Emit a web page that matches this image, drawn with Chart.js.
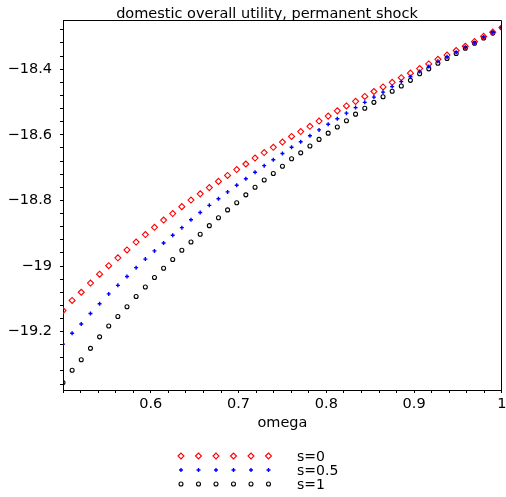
<!DOCTYPE html>
<html>
<head>
<meta charset="utf-8">
<title>domestic overall utility, permanent shock</title>
<script src="https://cdn.jsdelivr.net/npm/chart.js@4.4.1/dist/chart.umd.min.js"></script>
<style>
    html, body { margin: 0; padding: 0; background: #fff; }
    #wrap { width: 506px; height: 497px; }
</style>
</head>
<body>
<div id="wrap"><canvas id="utilityChart" width="506" height="497"></canvas></div>
<script>
// --- Data ---
const omega = [
    0.5, 0.5104, 0.5208, 0.5313, 0.5417, 0.5521, 0.5625, 0.5729, 0.5833, 0.5938,
    0.6042, 0.6146, 0.625, 0.6354, 0.6458, 0.6563, 0.6667, 0.6771, 0.6875, 0.6979,
    0.7083, 0.7188, 0.7292, 0.7396, 0.75, 0.7604, 0.7708, 0.7813, 0.7917, 0.8021,
    0.8125, 0.8229, 0.8333, 0.8438, 0.8542, 0.8646, 0.875, 0.8854, 0.8958, 0.9063,
    0.9167, 0.9271, 0.9375, 0.9479, 0.9583, 0.9688, 0.9792, 0.9896, 1
];

const utilityS0 = [
    -19.136, -19.105, -19.080, -19.052, -19.025, -18.999, -18.975, -18.951, -18.927, -18.904,
    -18.882, -18.860, -18.840, -18.819, -18.799, -18.780, -18.761, -18.742, -18.724, -18.706,
    -18.689, -18.671, -18.654, -18.638, -18.622, -18.605, -18.590, -18.574, -18.558, -18.543,
    -18.527, -18.512, -18.498, -18.483, -18.468, -18.454, -18.440, -18.426, -18.412, -18.398,
    -18.384, -18.370, -18.357, -18.343, -18.330, -18.316, -18.300, -18.287, -18.273
];

const utilityS05 = [
    -19.238, -19.205, -19.177, -19.145, -19.115, -19.085, -19.059, -19.032, -19.005, -18.979,
    -18.954, -18.930, -18.906, -18.883, -18.859, -18.837, -18.815, -18.795, -18.774, -18.754,
    -18.734, -18.714, -18.694, -18.676, -18.657, -18.638, -18.621, -18.603, -18.585, -18.568,
    -18.551, -18.534, -18.517, -18.501, -18.485, -18.470, -18.453, -18.438, -18.423, -18.407,
    -18.392, -18.376, -18.362, -18.348, -18.333, -18.319, -18.302, -18.288, -18.273
];

const utilityS1 = [
    -19.355, -19.318, -19.286, -19.251, -19.216, -19.183, -19.154, -19.124, -19.093, -19.064,
    -19.035, -19.007, -18.980, -18.952, -18.927, -18.903, -18.877, -18.853, -18.829, -18.807,
    -18.783, -18.760, -18.738, -18.718, -18.696, -18.673, -18.655, -18.634, -18.614, -18.595,
    -18.576, -18.557, -18.537, -18.519, -18.501, -18.484, -18.467, -18.451, -18.434, -18.414,
    -18.399, -18.382, -18.367, -18.352, -18.336, -18.321, -18.305, -18.290, -18.274
];

const seriesLabels = ['s=0', 's=0.5', 's=1'];

const xTickValues = [0.6, 0.7, 0.8, 0.9, 1];
const xTickLabels = ['0.6', '0.7', '0.8', '0.9', '1'];
const yTickValues = [-19.2, -19, -18.8, -18.6, -18.4];
const yTickLabels = ['\u221219.2', '\u221219', '\u221218.8', '\u221218.6', '\u221218.4'];

const chartTitle = 'domestic overall utility, permanent shock';
const xTitle = 'omega';

// --- Styles ---
const FONT = "'DejaVu Sans', 'Liberation Sans', sans-serif";
const markerStyles = [
    { pointStyle: 'rectRot', color: '#ff0000', radius: 3, width: 1.1, order: 1 },
    { pointStyle: 'cross', color: '#0000ff', radius: 2, width: 1.4, order: 0 },
    { pointStyle: 'circle', color: '#000000', radius: 2, width: 1.1, order: 2 }
];

Chart.defaults.font.family = FONT;
Chart.defaults.color = '#000';

const toPoints = ys => ys.map((y, i) => ({ x: omega[i], y: y }));
const seriesValues = [utilityS0, utilityS05, utilityS1];

// minor ticks every 0.02 on x and 0.04 on y, labels only on the major ones
const minorTicks = (from, step, count) => {
    const out = [];
    for (let i = 0; i < count; i++) out.push({ value: +(from + i * step).toFixed(2) });
    return out;
};
const labelFor = (values, labels) => v => {
    const idx = values.findIndex(m => Math.abs(m - v) < 1e-6);
    return idx >= 0 ? labels[idx] : '';
};

const drawMarker = (ctx, style, x, y, r) => {
    ctx.beginPath();
    if (style === 'rectRot') {
        ctx.moveTo(x - r, y);
        ctx.lineTo(x, y - r);
        ctx.lineTo(x + r, y);
        ctx.lineTo(x, y + r);
        ctx.closePath();
    } else if (style === 'cross') {
        ctx.moveTo(x, y - r);
        ctx.lineTo(x, y + r);
        ctx.moveTo(x - r, y);
        ctx.lineTo(x + r, y);
    } else {
        ctx.arc(x, y, r, 0, Math.PI * 2);
    }
    ctx.stroke();
};

// --- Frame, title and legend ---
const decorations = {
    id: 'decorations',
    afterDraw(chart) {
        const { ctx, chartArea } = chart;
        ctx.save();

        // top and right sides of the box
        ctx.strokeStyle = '#000';
        ctx.lineWidth = 1;
        ctx.beginPath();
        const top = Math.round(chartArea.top) + 0.5;
        const right = Math.round(chartArea.right) - 0.5;
        ctx.moveTo(Math.round(chartArea.left), top);
        ctx.lineTo(right, top);
        ctx.lineTo(right, Math.round(chartArea.bottom));
        ctx.stroke();

        // title
        ctx.fillStyle = '#000';
        ctx.font = '14.5px ' + FONT;
        ctx.textAlign = 'center';
        ctx.textBaseline = 'alphabetic';
        ctx.fillText(chartTitle, 267, 17.5);

        // legend: six markers and a label per series
        const rowY = [456, 470, 484];
        const markerX = [181, 198.5, 216, 233.5, 251, 268.5];
        ctx.textAlign = 'left';
        ctx.textBaseline = 'middle';
        ctx.font = '14px ' + FONT;
        markerStyles.forEach((m, i) => {
            ctx.strokeStyle = m.color;
            ctx.lineWidth = m.width;
            markerX.forEach(x => drawMarker(ctx, m.pointStyle, x, rowY[i], m.radius));
            ctx.fillStyle = '#000';
            ctx.fillText(seriesLabels[i], 297, rowY[i] + 1);
        });
        ctx.restore();
    }
};

const tickFont = { size: 14.5, family: FONT };

new Chart(document.getElementById('utilityChart'), {
    type: 'scatter',
    data: {
        datasets: seriesValues.map((ys, i) => ({
            label: seriesLabels[i],
            data: toPoints(ys),
            order: markerStyles[i].order,
            pointStyle: markerStyles[i].pointStyle,
            pointRadius: markerStyles[i].radius,
            pointHoverRadius: markerStyles[i].radius,
            pointBorderWidth: markerStyles[i].width,
            borderColor: markerStyles[i].color,
            backgroundColor: 'rgba(0,0,0,0)',
            showLine: false
        }))
    },
    options: {
        responsive: false,
        animation: false,
        events: [],
        layout: { padding: { top: 20, right: 4, left: 0, bottom: 0 } },
        plugins: { legend: { display: false }, tooltip: { enabled: false }, title: { display: false } },
        scales: {
            x: {
                type: 'linear',
                min: 0.5,
                max: 1,
                afterBuildTicks: scale => { scale.ticks = minorTicks(0.5, 0.02, 26); },
                afterFit: scale => {
                    scale.height = 107;
                    scale.paddingLeft = 0;
                    scale.paddingRight = 0;
                },
                ticks: {
                    autoSkip: false,
                    maxRotation: 0,
                    padding: 3,
                    color: '#000',
                    font: tickFont,
                    callback: labelFor(xTickValues, xTickLabels)
                },
                grid: { drawOnChartArea: false, drawTicks: true, tickLength: 3, tickColor: '#000' },
                border: { display: true, color: '#000', width: 1 },
                title: {
                    display: true,
                    text: xTitle,
                    color: '#000',
                    font: { size: 14.5, family: FONT },
                    padding: { top: 0, bottom: 65 }
                }
            },
            y: {
                type: 'linear',
                min: -19.378,
                max: -18.25,
                afterBuildTicks: scale => { scale.ticks = minorTicks(-19.36, 0.04, 28); },
                afterFit: scale => {
                    scale.width = 63;
                    scale.paddingTop = 0;
                    scale.paddingBottom = 0;
                },
                ticks: {
                    autoSkip: false,
                    padding: 8,
                    color: '#000',
                    font: tickFont,
                    callback: labelFor(yTickValues, yTickLabels)
                },
                grid: { drawOnChartArea: false, drawTicks: true, tickLength: 3, tickColor: '#000' },
                border: { display: true, color: '#000', width: 1 }
            }
        }
    },
    plugins: [decorations]
});
</script>
</body>
</html>
